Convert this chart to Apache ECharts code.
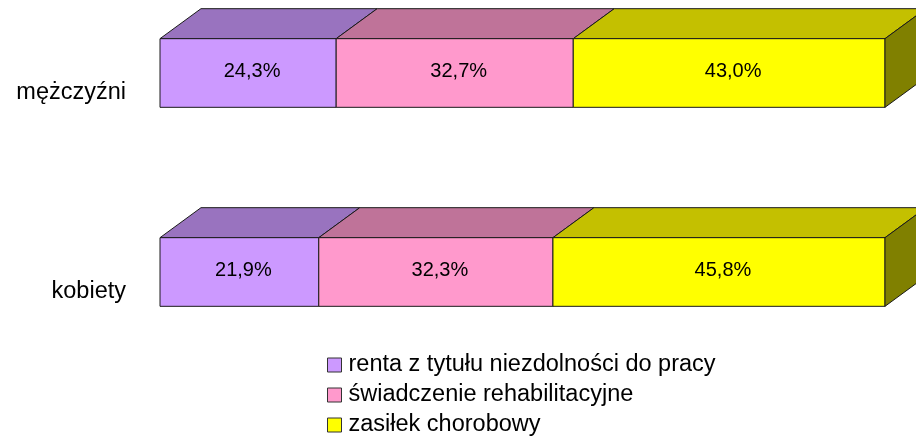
<!DOCTYPE html>
<html>
<head>
<meta charset="utf-8">
<script src="https://cdn.jsdelivr.net/npm/echarts@6/dist/echarts.min.js"></script>
<style>
html, body { margin: 0; padding: 0; background: #fff; }
#chart { width: 916px; height: 437px; }
</style>
</head>
<body>
<div id="chart"></div>
<script>
// kategorie i udziały (%)
const categories = ['mężczyźni', 'kobiety'];
const seriesNames = ['renta z tytułu niezdolności do pracy', 'świadczenie rehabilitacyjne', 'zasiłek chorobowy'];
const renta = [24.3, 21.9];
const swiadczenie = [32.7, 32.3];
const zasilek = [43.0, 45.8];

const frontColors = ['#CC99FF', '#FF99CC', '#FFFF00'];
const topColors = ['#9973BF', '#BF7399', '#C4C000'];
const sideColor = '#808000';
const depth = [41, -30];
const font = 'Liberation Sans, Arial, sans-serif';

const values = [renta, swiadczenie, zasilek];

// start of each segment = sum of previous ones
function buildData(idx) {
	return categories.map((c, ci) => {
		let start = 0;
		for (let k = 0; k < idx; k++) start += values[k][ci];
		return [start, values[idx][ci], ci];
	});
}

function fmt(v) {
	return v.toFixed(1).replace('.', ',') + '%';
}

function makeRender(idx) {
	const last = idx === values.length - 1;
	return function (params, api) {
		const start = api.value(0), val = api.value(1), cat = api.value(2);
		const p0 = api.coord([start, cat]);
		const p1 = api.coord([start + val, cat]);
		const h = api.size([0, 1])[1] * 0.345;
		const x0 = p0[0], x1 = p1[0];
		const yt = p0[1] - h / 2, yb = p0[1] + h / 2;
		const [dx, dy] = depth;
		const stroke = { stroke: '#1a1a1a', lineWidth: 1 };
		const children = [
			{
				type: 'polygon',
				shape: { points: [[x0, yt], [x1, yt], [x1 + dx, yt + dy], [x0 + dx, yt + dy]] },
				style: Object.assign({ fill: topColors[idx] }, stroke)
			},
			{
				type: 'rect',
				shape: { x: x0, y: yt, width: x1 - x0, height: h },
				style: Object.assign({ fill: frontColors[idx] }, stroke)
			}
		];
		if (last) {
			children.push({
				type: 'polygon',
				shape: { points: [[x1, yt], [x1 + dx, yt + dy], [x1 + dx, yb + dy], [x1, yb]] },
				style: Object.assign({ fill: sideColor }, stroke)
			});
		}
		children.push({
			type: 'text',
			x: (x0 + x1) / 2 + 4,
			y: p0[1] - 2,
			style: {
				text: fmt(val),
				fill: '#000',
				font: '20px ' + font,
				align: 'center',
				verticalAlign: 'middle'
			}
		});
		return { type: 'group', children: children };
	};
}

const chart = echarts.init(document.getElementById('chart'));

chart.setOption({
	animation: false,
	backgroundColor: '#fff',
	textStyle: { fontFamily: font },
	grid: { left: 160, right: 31, top: -26.5, height: 398, outerBoundsMode: 'none', containLabel: false },
	xAxis: { type: 'value', min: 0, max: 100, show: false },
	yAxis: {
		type: 'category',
		inverse: true,
		data: categories,
		axisLine: { show: false },
		axisTick: { show: false },
		splitLine: { show: false },
		axisLabel: {
			margin: 34,
			color: '#000',
			fontSize: 23.5,
			fontFamily: font,
			verticalAlign: 'top',
			lineHeight: 40
		}
	},
	legend: {
		orient: 'vertical',
		left: 327,
		top: 353,
		height: 90,
		padding: 0,
		itemWidth: 14,
		itemHeight: 14,
		itemGap: 6,
		icon: 'rect',
		itemStyle: { borderColor: '#333', borderWidth: 1 },
		textStyle: { color: '#000', fontSize: 23.5, fontFamily: font, lineHeight: 24, padding: [0, 0, 0, 2] },
		data: seriesNames
	},
	series: seriesNames.map((name, i) => ({
		name: name,
		type: 'custom',
		itemStyle: { color: frontColors[i] },
		renderItem: makeRender(i),
		encode: { x: [0, 1], y: 2 },
		data: buildData(i)
	}))
});
</script>
</body>
</html>
